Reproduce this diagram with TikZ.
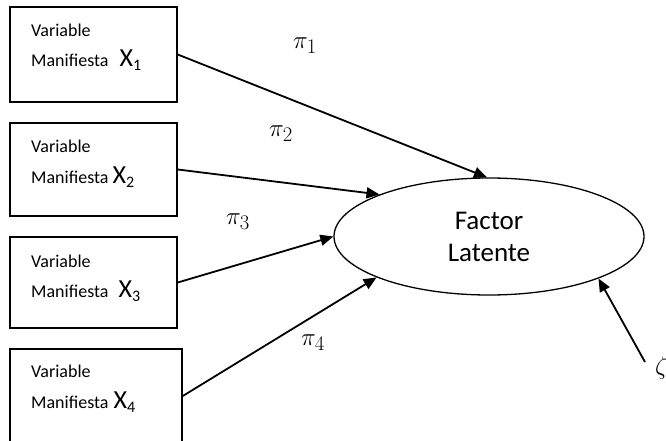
\documentclass[tikz,border=0pt]{standalone}
\usepackage{fontspec}
\setmainfont{Carlito}
\usetikzlibrary{arrows.meta,shapes.geometric}

\begin{document}
\begin{tikzpicture}[x=1pt,y=-1pt,
  box/.style={draw, line width=1.5pt, minimum width=167pt, minimum height=95pt, inner sep=0pt},
  lbl/.style={anchor=base west, inner sep=0pt, font=\fontsize{18}{21}\selectfont},
  path/.style={line width=1.8pt, -{Triangle[length=13pt,width=11pt]}},
  coef/.style={inner sep=0pt, font=\fontsize{28}{32}\selectfont},
  factor/.style={draw, ellipse, line width=1.3pt, minimum width=310pt, minimum height=117pt,
    inner sep=0pt, align=center, font=\fontsize{27}{32}\selectfont}
]
\newcommand{\varX}[2]{\hspace{#1}{\fontsize{26}{30}\selectfont X\raisebox{-4pt}{\fontsize{16}{18}\selectfont #2}}}
\useasboundingbox (0,0) rectangle (666,441);
\clip (0,0) rectangle (666,441);

% manifest variables
\node[box] (b1) at (93.5,54.5) {};
\node[box, minimum height=93pt] (b2) at (93.5,169.5) {};
\node[box, minimum height=91pt] (b3) at (93.5,282.5) {};
\node[box, minimum width=172pt, minimum height=100pt] (b4) at (96,399) {};

\node[lbl] (v1) at (31,37) {Variable};
\node[lbl] (m1) at (31,67) {Manifiesta\varX{11pt}{1}};
\node[lbl] (v2) at (31,152) {Variable};
\node[lbl] (m2) at (31,183) {Manifiesta\varX{4pt}{2}};
\node[lbl] (v3) at (31,267) {Variable};
\node[lbl] (m3) at (31,297) {Manifiesta\varX{10pt}{3}};
\node[lbl] (v4) at (31,377) {Variable};
\node[lbl] (m4) at (31,408) {Manifiesta\varX{5pt}{4}};

% latent factor
\node[factor] (f) at (489,236.5) {Factor\\Latente};

% disturbance
\node[anchor=base west, inner sep=0pt, font=\fontsize{28}{32}\selectfont] (z) at (655,374) {$\zeta$};
\coordinate (zt) at (645,362);

% loadings
\draw[path] (b1.east) -- (f.92);
\draw[path] (b2.east) -- (f.159.5);
\draw[path] (b3.east) -- (f.west);
\draw[path] (b4.east |- 0,396) -- (f.200.5);
\draw[path] (zt) -- (f.339.5);

\node[coef] (p1) at (305,46) {$\pi_1$};
\node[coef] (p2) at (281,134) {$\pi_2$};
\node[coef] (p3) at (238,222) {$\pi_3$};
\node[coef] (p4) at (313,343) {$\pi_4$};
\end{tikzpicture}
\end{document}
